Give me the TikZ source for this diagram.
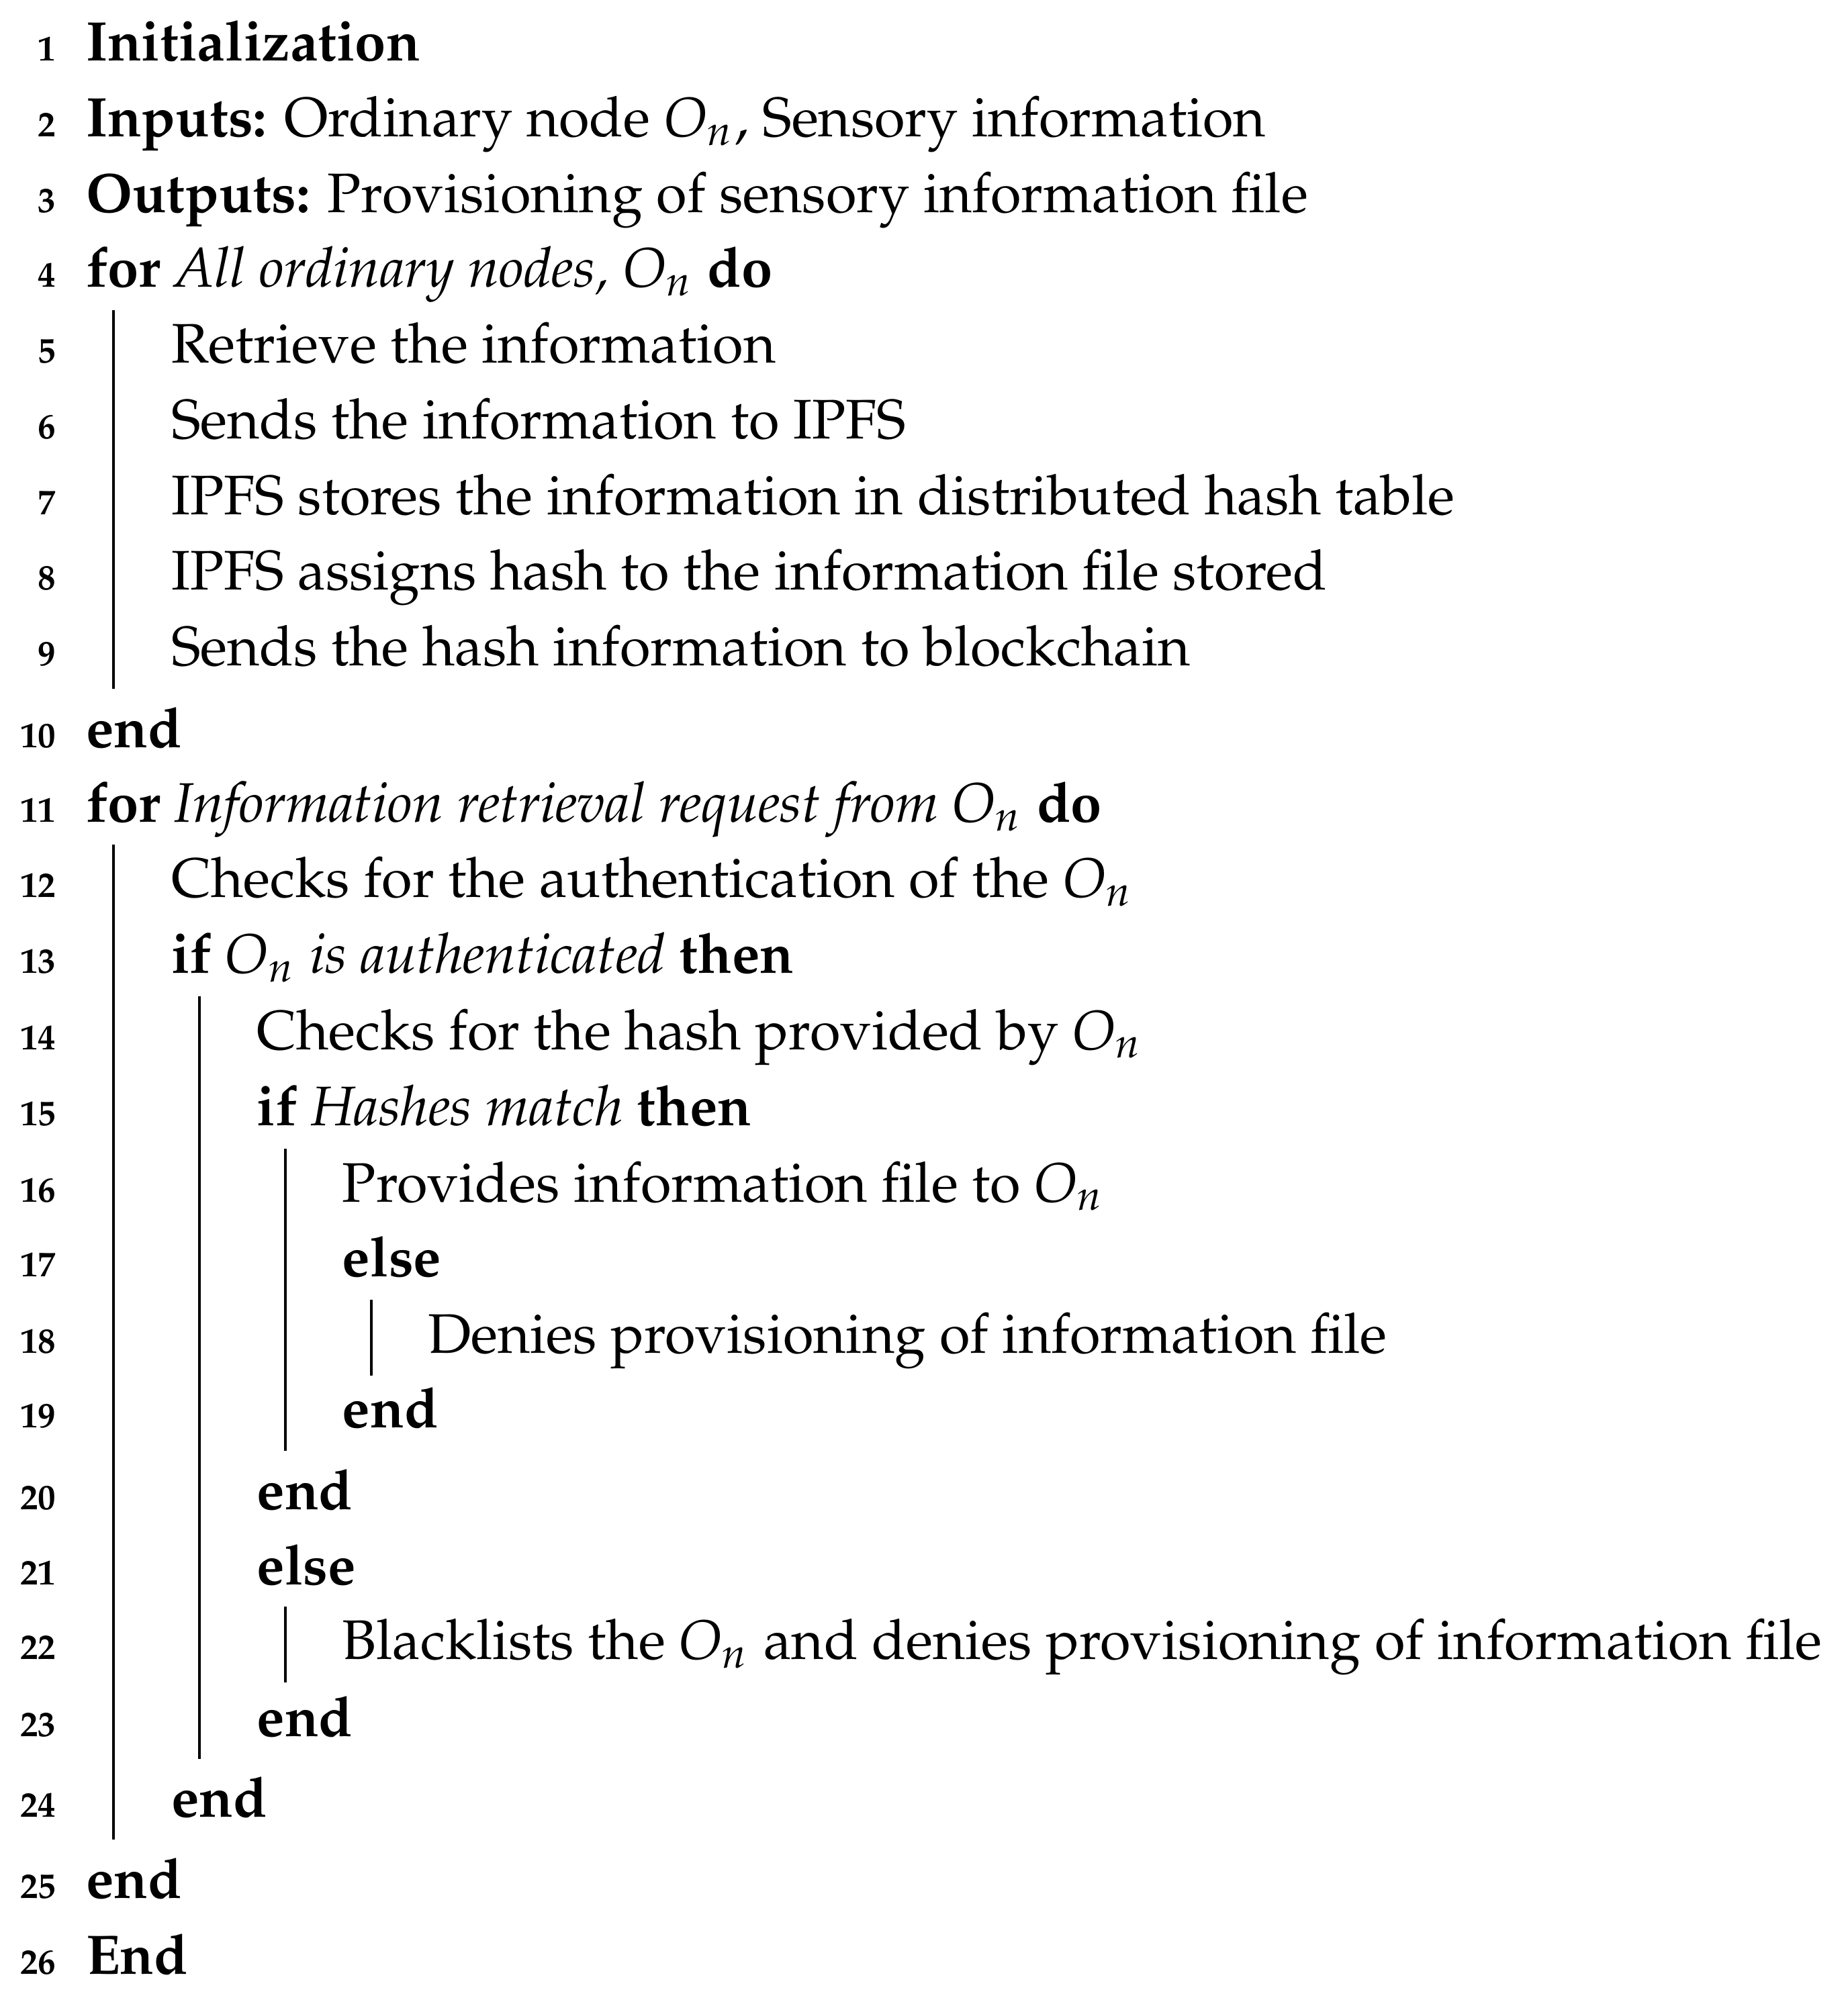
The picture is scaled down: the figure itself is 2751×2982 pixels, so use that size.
\documentclass[tikz,border=0pt]{standalone}
\usepackage[T1]{fontenc}
\usepackage{mathpazo}
\begin{document}
\begin{tikzpicture}[x=0.1pt,y=-0.1pt,
  txt/.style={anchor=base west,inner sep=0pt,outer sep=0pt,font=\fontsize{8.3pt}{10pt}\selectfont},
  num/.style={anchor=base east,inner sep=0pt,outer sep=0pt,font=\fontsize{5.3pt}{6pt}\selectfont\bfseries},
  blockrule/.style={line width=0.4pt,line cap=butt}]
\useasboundingbox (0,0) rectangle (2751,2982);
% line numbers
\node[num] (n1)  at (83,90.7)   {1};
\node[num] (n2)  at (83,204)    {2};
\node[num] (n3)  at (83,316.7)  {3};
\node[num] (n4)  at (83,428)    {4};
\node[num] (n5)  at (83,541)    {5};
\node[num] (n6)  at (83,654)    {6};
\node[num] (n7)  at (83,767)    {7};
\node[num] (n8)  at (83,879)    {8};
\node[num] (n9)  at (83,991.7)  {9};
\node[num] (n10) at (83,1113.3) {10};
\node[num] (n11) at (83,1225)   {11};
\node[num] (n12) at (83,1336.7) {12};
\node[num] (n13) at (83,1450)   {13};
\node[num] (n14) at (83,1563)   {14};
\node[num] (n15) at (83,1676)   {15};
\node[num] (n16) at (83,1790)   {16};
\node[num] (n17) at (83,1901.7) {17};
\node[num] (n18) at (83,2015)   {18};
\node[num] (n19) at (83,2126.7) {19};
\node[num] (n20) at (83,2248.3) {20};
\node[num] (n21) at (83,2360)   {21};
\node[num] (n22) at (83,2471.7) {22};
\node[num] (n23) at (83,2586)   {23};
\node[num] (n24) at (83,2706)   {24};
\node[num] (n25) at (83,2827)   {25};
\node[num] (n26) at (83,2940)   {26};
% lines
\node[txt] (l1)  at (128,90.7)   {\textbf{Initialization}};
\node[txt] (l2)  at (128,204)    {\textbf{Inputs:} Ordinary node $O_n$, Sensory information};
\node[txt] (l3)  at (128,316.7)  {\textbf{Outputs:} Provisioning of sensory information file};
\node[txt] (l4)  at (128,428)    {\textbf{for} \textit{All ordinary nodes, $O_n$} \textbf{do}};
\node[txt] (l5)  at (255.3,541)  {Retrieve the information};
\node[txt] (l6)  at (255.3,654)  {Sends the information to IPFS};
\node[txt] (l7)  at (255.3,767)  {IPFS stores the information in distributed hash table};
\node[txt] (l8)  at (255.3,879)  {IPFS assigns hash to the information file stored};
\node[txt] (l9)  at (255.3,991.7) {Sends the hash information to blockchain};
\node[txt] (l10) at (128,1113.3) {\textbf{end}};
\node[txt] (l11) at (128,1225)   {\textbf{for} \textit{Information retrieval request from $O_n$} \textbf{do}};
\node[txt] (l12) at (255.3,1336.7) {Checks for the authentication of the $O_n$};
\node[txt] (l13) at (255.3,1450) {\textbf{if} \textit{$O_n$ is authenticated} \textbf{then}};
\node[txt] (l14) at (382.6,1563) {Checks for the hash provided by $O_n$};
\node[txt] (l15) at (382.6,1676) {\textbf{if} \textit{Hashes match} \textbf{then}};
\node[txt] (l16) at (509.9,1790) {Provides information file to $O_n$};
\node[txt] (l17) at (509.9,1901.7) {\textbf{else}};
\node[txt] (l18) at (637.2,2015) {Denies provisioning of information file};
\node[txt] (l19) at (509.9,2126.7) {\textbf{end}};
\node[txt] (l20) at (382.6,2248.3) {\textbf{end}};
\node[txt] (l21) at (382.6,2360) {\textbf{else}};
\node[txt] (l22) at (509.9,2471.7) {Blacklists the $O_n$ and denies provisioning of information file};
\node[txt] (l23) at (382.6,2586) {\textbf{end}};
\node[txt] (l24) at (255.3,2706) {\textbf{end}};
\node[txt] (l25) at (128,2827)   {\textbf{end}};
\node[txt] (l26) at (128,2940)   {\textbf{End}};
% block rules
\draw[blockrule] (169,462) -- (169,1025.7);
\draw[blockrule] (169,1257.7) -- (169,2740);
\draw[blockrule] (297,1484) -- (297,2620);
\draw[blockrule] (425,1711) -- (425,2160.7);
\draw[blockrule] (553,1936) -- (553,2049);
\draw[blockrule] (425,2392.7) -- (425,2505.7);
\end{tikzpicture}
\end{document}
